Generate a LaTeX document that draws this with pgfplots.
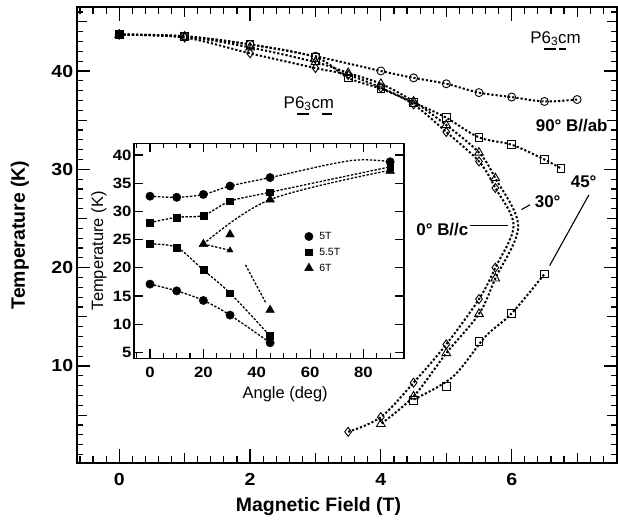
\documentclass[border=0pt]{standalone}
\usepackage{fontspec}
\setmainfont{Liberation Sans}
\newfontfamily\tickfont{Liberation Sans}[FakeStretch=1.12]
\usepackage{pgfplots}
\pgfplotsset{compat=1.18}
\newcommand\ul[1]{\setbox0\hbox{#1}\rlap{\hbox to \wd0{\hss\raisebox{-6.5bp}{\rule{0.75\wd0}{1.3bp}}\hss}}\box0}
\tikzset{
  dots/.style={line width=2bp, dash pattern=on 2.2bp off 2bp, smooth, tension=0.55, no marks},
  idash/.style={line width=1.3bp, dash pattern=on 2.4bp off 1.6bp, smooth, tension=0.55, no marks},
  mk/.style={only marks, mark options={solid, line width=0.9bp, fill=none}},
}
\begin{document}
\begin{tikzpicture}
\path[use as bounding box] (0,0) rectangle (618bp,522bp);
\begin{axis}[
  at={(76.7bp,59.3bp)}, anchor=south west,
  scale only axis, width=540.3bp, height=455.4bp,
  xmin=-0.65, xmax=7.61, ymin=0.16, ymax=46.48,
  axis line style={line width=1.8bp},
  tick style={line width=1.2bp, black},
  tick align=inside,
  xtick={0,2,4,6},
  ytick={10,20,30,40},
  minor xtick={-0.6,-0.4,-0.2,0.2,0.4,0.6,0.8,1.2,1.4,1.6,1.8,2.2,2.4,2.6,2.8,3.2,3.4,3.6,3.8,4.2,4.4,4.6,4.8,5.2,5.4,5.6,5.8,6.2,6.4,6.6,6.8,7.2,7.4},
  minor ytick={1,2,3,4,6,7,8,9,11,12,13,14,16,17,18,19,21,22,23,24,26,27,28,29,31,32,33,34,36,37,38,39,41,42,43,44,46},
  extra x ticks={1,3,5,7}, extra x tick labels={},
  extra x tick style={major tick length=10bp},
  extra y ticks={5,15,25,35,45}, extra y tick labels={},
  extra y tick style={major tick length=10.5bp},
  major tick length=13.5bp, minor tick length=6.5bp,
  /pgf/number format/assume math mode=true,
  tick label style={font=\tickfont\fontsize{17.5}{17.5}\selectfont\bfseries},
  xticklabel style={yshift=-7bp},
  xlabel={Magnetic Field (T)},
  ylabel={Temperature (K)},
  label style={font=\fontsize{19.5}{19.5}\selectfont\bfseries},
  xlabel style={at={(axis description cs:0.4475,-0.097)}, anchor=center},
  ylabel style={at={(axis description cs:-0.105,0.5)}, anchor=center},
  clip=false,
]
% dotted curves
\addplot[dots] coordinates {(0,43.7)(1,43.55)(2,42.7)(3,41.5)(4,40.0)(4.5,39.3)(5,38.7)(5.5,37.8)(6,37.35)(6.5,36.9)(7,37.1)};
\addplot[dots] coordinates {(0,43.7)(1,43.5)(2,42.7)(3,41.4)(3.5,39.3)(4,38.2)(4.5,36.8)(5,35.25)(5.5,33.25)(6,32.5)(6.5,31.0)(6.75,30.1)};
\addplot[dots] coordinates {(4.5,6.6)(5.1,8.9)(5.6,13.0)(6.0,15.35)(6.5,19.35)};
\addplot[dots] coordinates {(0,43.7)(1,43.5)(2,42.4)(3,40.9)(3.5,39.8)(4,38.7)(4.5,36.9)(5,34.5)(5.5,31.7)(5.75,29.1)(6.1,24.2)(5.75,18.9)(5.5,15.3)(5,11.3)(4.5,6.9)(4,4.1)};
\addplot[dots] coordinates {(0,43.7)(1,43.4)(2,41.8)(3,40.3)(3.5,39.6)(4,38.3)(4.5,36.6)(5,33.8)(5.5,30.8)(5.75,28.1)(6.03,24.3)(5.75,20.0)(5.5,16.8)(5,12.2)(4.5,8.3)(4,4.8)(3.5,3.3)};
% markers
\addplot[mk, mark=o, mark size=4bp] coordinates {(0,43.7)(1,43.55)(2,42.7)(3,41.5)(4,40.0)(4.5,39.3)(5,38.7)(5.5,37.8)(6,37.35)(6.5,36.9)(7,37.1)};
\addplot[mk, mark=square, mark size=3.8bp] coordinates {(0,43.7)(1,43.5)(2,42.7)(3,41.4)(3.5,39.3)(4,38.2)(4.5,36.8)(5,35.25)(5.5,33.25)(6,32.5)(6.5,31.0)(6.75,30.1)(4.5,6.5)(5,7.9)(5.5,12.5)(6,15.35)(6.5,19.35)};
\addplot[mk, mark=triangle, mark size=5bp] coordinates {(0,43.7)(1,43.5)(2,42.4)(3,40.9)(3.5,39.8)(4,38.7)(4.5,36.9)(5,34.5)(5.5,31.7)(5.75,29.1)(5.75,18.9)(5.5,15.3)(5,11.3)(4.5,6.9)(4,4.1)};
\addplot[mk, mark=diamond, mark size=4.5bp] coordinates {(0,43.7)(1,43.4)(2,41.8)(3,40.3)(3.5,39.6)(4,38.3)(4.5,36.6)(5,33.8)(5.5,30.8)(5.75,28.1)(5.75,20.0)(5.5,16.8)(5,12.2)(4.5,8.3)(4,4.8)(3.5,3.3)};
\addplot[only marks, mark=square*, mark size=3.8bp] coordinates {(0,43.7)};
% annotations
\draw[line width=1.1bp] (axis cs:5.37,24.3) -- (axis cs:5.95,24.3);
\draw[line width=1.1bp] (axis cs:6.15,25.9) -- (axis cs:6.28,26.4);
\draw[line width=1.1bp] (axis cs:6.58,20.2) -- (axis cs:7.18,27.4);
\node[font=\fontsize{17}{17}\selectfont\bfseries, anchor=east] at (axis cs:7.52,34.5) {90° B//ab};
\node[font=\fontsize{17}{17}\selectfont\bfseries] at (axis cs:7.1,28.7) {45°};
\node[font=\fontsize{17}{17}\selectfont\bfseries] at (axis cs:6.55,26.7) {30°};
\node[font=\fontsize{17}{17}\selectfont\bfseries] at (axis cs:4.94,23.9) {0° B//c};
\node[font=\fontsize{17}{17}\selectfont] at (axis cs:2.9,36.5) {P\ul{6\textsubscript{3}}c\ul{m}};
\node[font=\fontsize{17}{17}\selectfont] at (axis cs:6.67,43.1) {P\ul{6\textsubscript{3}}\ul{c}m};
\end{axis}
\begin{axis}[
  at={(134bp,163.7bp)}, anchor=south west,
  scale only axis, width=270bp, height=215bp,
  xmin=-6, xmax=95.2, ymin=3.94, ymax=42.08,
  axis background/.style={fill=white},
  axis line style={line width=1.4bp},
  tick style={line width=1.1bp, black},
  tick align=inside,
  xtick={0,20,40,60,80},
  minor xtick={-5,5,10,15,25,30,35,45,50,55,65,70,75,85,90,95},
  ytick={5,10,15,20,25,30,35,40},
  major tick length=9bp, minor tick length=5bp,
  /pgf/number format/assume math mode=true,
  tick label style={font=\tickfont\fontsize{15}{15}\selectfont\bfseries},
  xticklabel style={yshift=-5bp},
  yticklabel style={xshift=1bp},
  xlabel={Angle (deg)},
  ylabel={Temperature (K)},
  label style={font=\fontsize{16.5}{16.5}\selectfont},
  xlabel style={at={(axis description cs:0.56,-0.165)}, anchor=center},
  ylabel style={at={(axis description cs:-0.13,0.5)}, anchor=center},
  legend style={draw=none, fill=none, font=\fontsize{10.5}{12}\selectfont,
    at={(axis description cs:0.62,0.6)}, anchor=north west,
    nodes={inner sep=1bp, text height=7bp, text depth=1bp}, row sep=5.8bp, column sep=5bp},
  legend cell align=left,
]
\addplot[idash, forget plot] coordinates {(0,32.7)(10,32.5)(20,33.0)(30,34.5)(45,36.0)(75,39.0)(90,38.8)};
\addplot[idash, forget plot] coordinates {(0,28.0)(10,28.95)(20,29.3)(30,31.8)(45,33.4)(90,37.9)};
\addplot[idash, forget plot] coordinates {(20,24.2)(45,32.1)(90,37.3)};
\addplot[idash, forget plot] coordinates {(20,24.2)(30,23.1)};
\addplot[idash, forget plot] coordinates {(35.8,20.5)(43.5,13.7)};
\addplot[idash, forget plot] coordinates {(0,17.1)(10,15.9)(20,14.2)(30,11.6)(45,6.7)};
\addplot[idash, forget plot] coordinates {(0,24.2)(10,23.6)(20,19.6)(30,15.5)(45,7.9)};
\addplot[only marks, mark=*, mark size=4.2bp] coordinates {(0,32.7)(10,32.5)(20,33.0)(30,34.5)(45,36.0)(90,38.8)(0,17.1)(10,15.9)(20,14.2)(30,11.6)(45,6.7)};
\addlegendentry{5T}
\addplot[only marks, mark=square*, mark size=3.4bp] coordinates {(0,28.0)(10,28.95)(20,29.3)(30,31.8)(45,33.4)(90,37.9)(0,24.2)(10,23.6)(20,19.6)(30,15.5)(45,7.9)};
\addlegendentry{5.5T}
\addplot[only marks, mark=triangle*, mark size=5bp] coordinates {(20,24.2)(30,25.9)(45,32.1)(45,12.5)(90,37.2)};
\addlegendentry{6T}
\addplot[only marks, mark=triangle*, mark size=3.5bp, forget plot] coordinates {(30,23.1)};
\end{axis}
\end{tikzpicture}
\end{document}
